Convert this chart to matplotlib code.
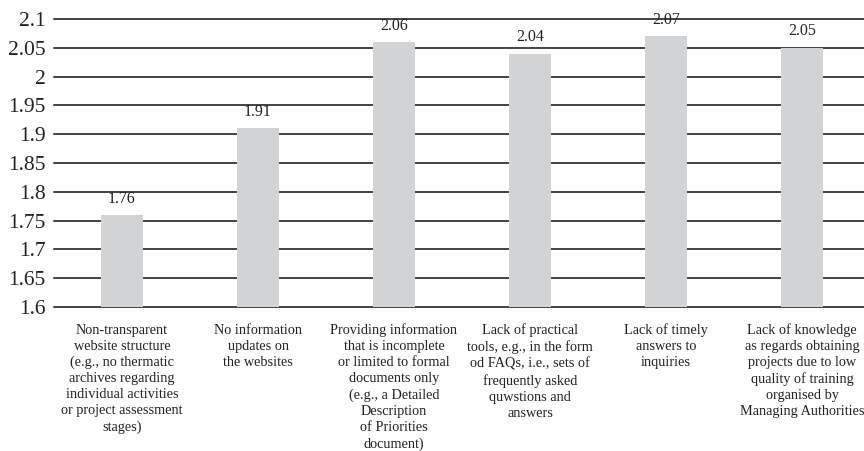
import matplotlib
matplotlib.use("Agg")
import matplotlib.pyplot as plt

# Mean ratings for each information barrier
categories = [
    "Non-transparent\nwebsite structure\n(e.g., no thermatic\narchives regarding\nindividual activities\nor project assessment\nstages)",
    "No information\nupdates on\nthe websites",
    "Providing information\nthat is incomplete\nor limited to formal\ndocuments only\n(e.g., a Detailed\nDescription\nof Priorities\ndocument)",
    "Lack of practical\ntools, e.g., in the form\nod FAQs, i.e., sets of\nfrequently asked\nquwstions and\nanswers",
    "Lack of timely\nanswers to\ninquiries",
    "Lack of knowledge\nas regards obtaining\nprojects due to low\nquality of training\norganised by\nManaging Authorities",
]
values = [1.76, 1.91, 2.06, 2.04, 2.07, 2.05]
y_ticks = [1.6, 1.65, 1.7, 1.75, 1.8, 1.85, 1.9, 1.95, 2.0, 2.05, 2.1]
y_tick_labels = ["1.6", "1.65", "1.7", "1.75", "1.8", "1.85", "1.9", "1.95", "2", "2.05", "2.1"]

plt.rcParams["font.family"] = ["Liberation Serif", "DejaVu Serif"]

fig = plt.figure(figsize=(8.64, 4.51), dpi=100)
ax = fig.add_axes([54 / 864, 1 - 307 / 451, 816 / 864, 288 / 451])

x = range(len(values))
ax.bar(x, values, width=0.31, color="#d2d3d5", zorder=2)

for xi, v in zip(x, values):
    ax.annotate(f"{v:.2f}", (xi, v), xytext=(0, 6), textcoords="offset points",
                ha="center", va="bottom", fontsize=11.5, color="#222222", zorder=3)

ax.set_ylim(1.6, 2.1)
ax.set_xlim(-0.5, len(values) - 0.5)
ax.set_yticks(y_ticks)
ax.set_yticklabels(y_tick_labels, fontsize=15.5, color="#222222")
ax.yaxis.grid(True, color="#111111", linewidth=1.1, zorder=1)
for gl in ax.get_ygridlines():
    gl.set_clip_on(False)
ax.set_axisbelow(True)
ax.set_xticks(list(x))
ax.set_xticklabels(categories, fontsize=10.3, color="#222222", linespacing=1.3, va="top")

for s in ax.spines.values():
    s.set_visible(False)
ax.tick_params(axis="y", length=0, pad=6)
ax.tick_params(axis="x", length=0, pad=12)

fig.savefig("out.png", dpi=100)
